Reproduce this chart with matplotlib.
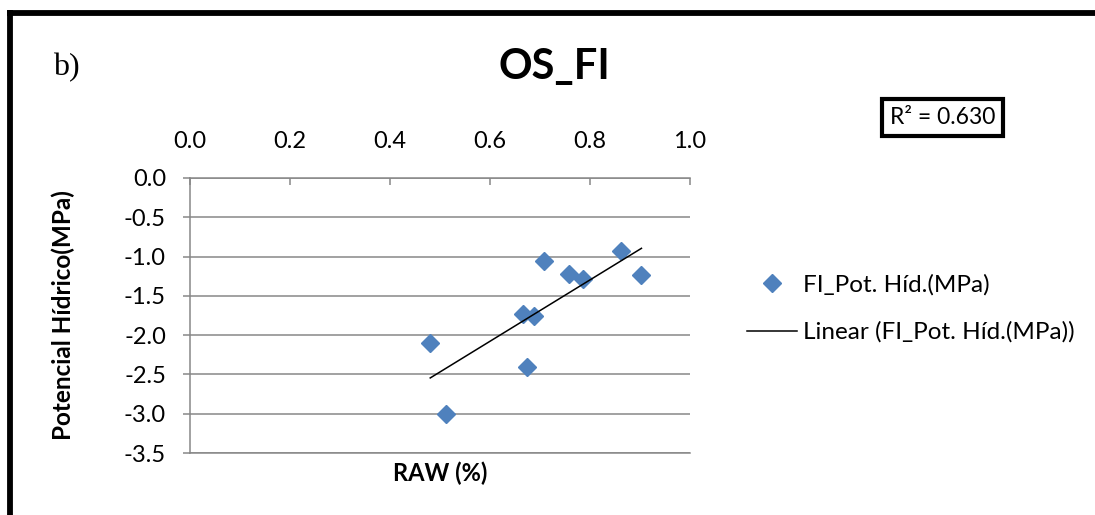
import numpy as np
import matplotlib
matplotlib.use("Agg")
import matplotlib.pyplot as plt
from matplotlib.lines import Line2D

# values
raw = [0.481, 0.513, 0.667, 0.688, 0.675, 0.708, 0.759, 0.787, 0.863, 0.903]
pot = [-2.10, -3.00, -1.73, -1.76, -2.40, -1.06, -1.22, -1.285, -0.925, -1.234]
x_ticks = [0.0, 0.2, 0.4, 0.6, 0.8, 1.0]
y_ticks = [0.0, -0.5, -1.0, -1.5, -2.0, -2.5, -3.0, -3.5]
series_label = "FI_Pot. Híd.(MPa)"
trend_label = "Linear (FI_Pot. Híd.(MPa))"
r2_text = "R² = 0.630"

W, H = 1095, 515
BLUE = "#4F81BD"
GRAY = "#878787"

plt.rcParams['font.family'] = ['Lato', 'DejaVu Sans']

fig = plt.figure(figsize=(W / 100, H / 100), dpi=100)
fig.patch.set_facecolor("white")


def fx(px):
    return px / W


def fy(py):
    return 1 - py / H


ax = fig.add_axes([fx(189.5), fy(453), fx(690) - fx(189.5), fy(178) - fy(453)])

ax.plot(raw, pot, linestyle="none", marker="D", markersize=9.5,
        color=BLUE, markeredgecolor=BLUE, label=series_label, zorder=3)

# linear trend line over the data range
slope, intercept = np.polyfit(raw, pot, 1)
xs = np.array([min(raw), max(raw)])
ax.plot(xs, slope * xs + intercept, color="black", lw=1.1, label=trend_label, zorder=4)

ax.set_xlim(0, 1)
ax.set_ylim(-3.5, 0)
ax.set_xticks(x_ticks)
ax.set_xticklabels([f"{v:.1f}" for v in x_ticks])
ax.set_yticks(y_ticks)
ax.set_yticklabels([f"{v:.1f}" for v in y_ticks])

ax.xaxis.tick_top()
ax.tick_params(axis="x", direction="in", length=5, width=1.1, color=GRAY,
               labelsize=17, pad=19)
ax.tick_params(axis="y", direction="out", length=5, width=1.1, color=GRAY,
               labelsize=17, pad=12)

ax.yaxis.grid(True, color=GRAY, lw=1.1)
ax.set_axisbelow(True)
ax.spines["right"].set_visible(False)
for side in ["top", "left", "bottom"]:
    ax.spines[side].set_color(GRAY)
    ax.spines[side].set_linewidth(1.1)

ax.set_xlabel("RAW (%)", fontsize=17, fontweight="bold")
ax.xaxis.set_label_position("bottom")
ax.xaxis.labelpad = 6
ax.set_ylabel("Potencial Hídrico(MPa)", fontsize=17.5, fontweight="bold")
ax.yaxis.set_label_coords(-0.229, 0.5)

fig.text(fx(554), fy(67), "OS_FI", fontsize=30, fontweight="bold",
         ha="center", va="center")
fig.text(fx(53), fy(75), "b)", fontsize=23, family="Liberation Serif",
         ha="left", va="baseline")

fig.text(fx(942.5), fy(117.5), r2_text, fontsize=16.5, ha="center", va="center",
         bbox=dict(boxstyle="square,pad=0.33", facecolor="white",
                   edgecolor="black", linewidth=3))

fig.legend(loc="upper left", bbox_to_anchor=(fx(746.7), fy(274)),
           frameon=False, fontsize=17.5, handlelength=2.06, handletextpad=0.25,
           labelspacing=1.07, borderpad=0, borderaxespad=0)

# outer frame (only top and left edges visible in the crop)
fig.add_artist(Line2D([fx(9.5), fx(9.5)], [0, fy(10)], color="black", lw=4.2,
                      transform=fig.transFigure, solid_capstyle="butt"))
fig.add_artist(Line2D([fx(7), 1], [fy(13), fy(13)], color="black", lw=4.2,
                      transform=fig.transFigure, solid_capstyle="butt"))

fig.savefig("out.png", dpi=100, facecolor="white")
